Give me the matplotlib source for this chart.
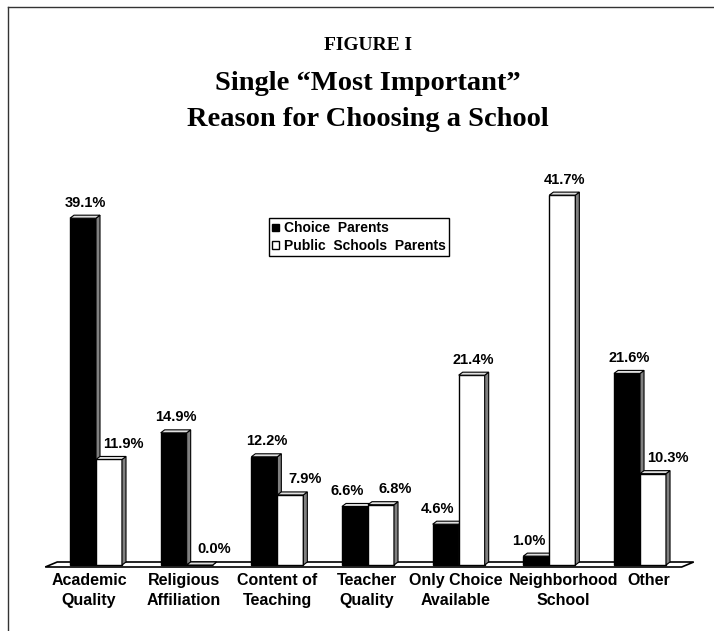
import matplotlib
matplotlib.use("Agg")
import matplotlib.pyplot as plt
from matplotlib.patches import Polygon, Patch
from matplotlib.lines import Line2D

CATEGORIES = [
    "Academic\nQuality",
    "Religious\nAffiliation",
    "Content of\nTeaching",
    "Teacher\nQuality",
    "Only Choice\nAvailable",
    "Neighborhood\nSchool",
    "Other",
]
CHOICE = [39.1, 14.9, 12.2, 6.6, 4.6, 1.0, 21.6]
PUBLIC = [11.9, 0.0, 7.9, 6.8, 21.4, 41.7, 10.3]
SERIES = ["Choice  Parents", "Public  Schools  Parents"]

# layout (pixels of the 714x631 canvas)
W, H = 714, 631
X0_PX, STEP_PX = 96, 90.67      # first group centre, group spacing
Y0_PX, PX_PER_PCT = 565, 8.87   # baseline, pixels per percent
LABEL_NUDGE = [-5, -2, 0, -1, -2, 10, 6]  # points

SANS = "Liberation Sans"
SERIF = "Liberation Serif"

fig = plt.figure(figsize=(W / 100, H / 100), dpi=100)
ax = fig.add_axes([0, 0, 1, 1])
ax.set_xlim(-X0_PX / STEP_PX, (W - X0_PX) / STEP_PX)
ax.set_ylim(-(H - Y0_PX) / PX_PER_PCT, Y0_PX / PX_PER_PCT)
ax.axis("off")

bar_w = 26 / STEP_PX
dx = 4 / STEP_PX
dy = 3 / PX_PER_PCT


def bar3d(xc, h, face, z, shift):
    ax.bar(xc, h, bar_w, color=face, edgecolor="black", linewidth=1, zorder=z)
    x0, x1 = xc - bar_w / 2, xc + bar_w / 2
    side = Polygon([(x1, 0), (x1, h), (x1 + dx, h + dy), (x1 + dx, dy)],
                   closed=True, fc="#808080", ec="black", lw=0.8, zorder=z)
    top = Polygon([(x0, h), (x0 + dx, h + dy), (x1 + dx, h + dy), (x1, h)],
                  closed=True, fc="#e0e0e0", ec="black", lw=0.8, zorder=z)
    ax.add_patch(side)
    ax.add_patch(top)
    ax.annotate(f"{h:.1f}%", xy=(xc + dx / 2, h + dy), xytext=(shift, 4),
                textcoords="offset points", ha="center", va="bottom",
                fontsize=10.5, fontweight="bold", family=SANS, zorder=20)


# floor
n = len(CATEGORIES)
fl, fr = -0.56, n - 1 + 0.46
sh = 12 / STEP_PX
front, back = -2 / PX_PER_PCT, 3 / PX_PER_PCT
ax.add_patch(Polygon([(fl, front), (fl + sh, back), (fr + sh, back), (fr, front)],
                     closed=True, fc="white", ec="black", lw=1.2, zorder=1))

for i in range(n):
    c, p = CHOICE[i], PUBLIC[i]
    close = abs(c - p) < 2.5
    # push the lower bar's label outward so it clears its neighbour
    c_shift = -7 if (p > c or close) else 0
    p_shift = 9 if (c > p or close) else 0
    bar3d(i - bar_w / 2, c, "black", 3 + 2 * i, c_shift)
    bar3d(i + bar_w / 2, p, "white", 4 + 2 * i, p_shift)
    ax.annotate(CATEGORIES[i], xy=(i, 0), xytext=(LABEL_NUDGE[i], -6),
                textcoords="offset points", ha="center", va="top",
                fontsize=11.5, fontweight="bold", family=SANS, linespacing=1.35)

handles = [Patch(fc="black", ec="black"), Patch(fc="white", ec="black")]
leg = fig.legend(handles, SERIES, loc="upper left",
                 bbox_to_anchor=(269 / W, 1 - 218 / H), borderaxespad=0,
                 prop={"family": SANS, "weight": "bold", "size": 10},
                 handlelength=0.5, handleheight=0.5, handletextpad=0.3,
                 borderpad=0.25, labelspacing=0.25, fancybox=False,
                 framealpha=1, edgecolor="black")
leg.get_frame().set_linewidth(1)

# page frame: left and top edges only
fig.add_artist(Line2D([8 / W, 8 / W], [0, 1 - 7 / H], color="#333333", lw=1))
fig.add_artist(Line2D([8 / W, 1], [1 - 7 / H, 1 - 7 / H], color="#333333", lw=1))

fig.text(368 / W, 1 - 46 / H, "FIGURE I", ha="center", va="center",
         fontsize=14, fontweight="bold", family=SERIF)
fig.text(368 / W, 1 - 83 / H, "Single \u201cMost Important\u201d", ha="center",
         va="center", fontsize=20.5, fontweight="bold", family=SERIF)
fig.text(368 / W, 1 - 119 / H, "Reason for Choosing a School", ha="center",
         va="center", fontsize=20.5, fontweight="bold", family=SERIF)

fig.savefig("out.png", dpi=100)
